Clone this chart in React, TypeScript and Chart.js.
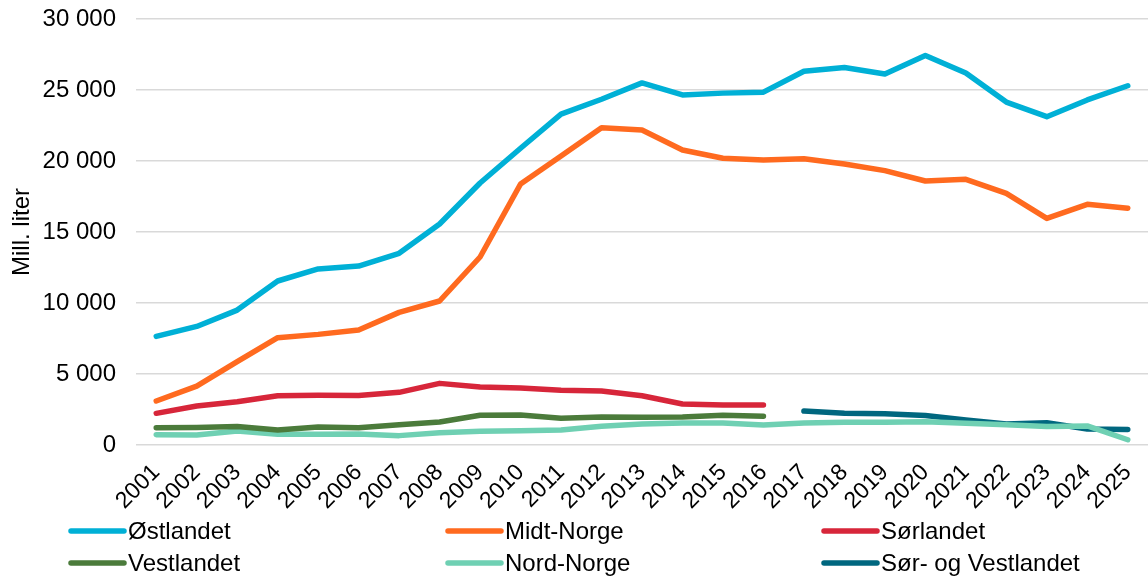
import React, { useEffect, useRef } from "react";
import { Chart, registerables } from "chart.js";

Chart.register(...registerables);

const years = [
  "2001", "2002", "2003", "2004", "2005", "2006", "2007", "2008", "2009", "2010",
  "2011", "2012", "2013", "2014", "2015", "2016", "2017", "2018", "2019", "2020",
  "2021", "2022", "2023", "2024", "2025",
];

const ostlandet = [
  7650, 8350, 9500, 11550, 12400, 12600, 13500, 15560, 18450, 20900,
  23300, 24350, 25500, 24650, 24780, 24850, 26320, 26580, 26130, 27430,
  26200, 24150, 23120, 24300, 25300,
];
const midtNorge = [
  3100, 4150, 5870, 7560, 7790, 8100, 9340, 10140, 13240, 18380,
  20350, 22350, 22180, 20770, 20190, 20070, 20160, 19790, 19320, 18590,
  18710, 17720, 15960, 16950, 16670,
];
const sorlandet = [
  2230, 2750, 3050, 3470, 3500, 3480, 3710, 4340, 4080, 4010,
  3850, 3800, 3470, 2890, 2820, 2820, null, null, null, null,
  null, null, null, null, null,
];
const vestlandet = [
  1220, 1240, 1310, 1060, 1270, 1220, 1430, 1620, 2090, 2110,
  1880, 1970, 1950, 1970, 2090, 2030, null, null, null, null,
  null, null, null, null, null,
];
const nordNorge = [
  730, 700, 990, 750, 750, 780, 660, 870, 960, 1010,
  1060, 1320, 1480, 1550, 1550, 1410, 1550, 1600, 1600, 1640,
  1530, 1430, 1310, 1340, 370,
];
const sorOgVestlandet = [
  null, null, null, null, null, null, null, null, null, null,
  null, null, null, null, null, null, 2390, 2230, 2200, 2070,
  1760, 1480, 1570, 1130, 1100,
];

const seriesNames = ["Østlandet", "Midt-Norge", "Sørlandet", "Vestlandet", "Nord-Norge", "Sør- og Vestlandet"];
const seriesColors = ["#00B0D6", "#FF6A1F", "#D7263A", "#4B7B3B", "#6FD0B3", "#00677F"];
const seriesData = [ostlandet, midtNorge, sorlandet, vestlandet, nordNorge, sorOgVestlandet];

const yTitle = "Mill. liter";
const FONT = "'Liberation Sans', Arial, sans-serif";

const legendPlugin = {
  id: "gridLegend",
  afterDraw(chart: any) {
    const ctx = chart.ctx;
    const cols = [69, 446, 822];
    const rows = [531, 563];
    ctx.save();
    ctx.font = `24px ${FONT}`;
    ctx.textBaseline = "middle";
    ctx.textAlign = "left";
    chart.data.datasets.forEach((ds: any, i: number) => {
      const x = cols[i % 3];
      const y = rows[Math.floor(i / 3)];
      ctx.strokeStyle = ds.borderColor;
      ctx.lineWidth = 5.5;
      ctx.lineCap = "round";
      ctx.beginPath();
      ctx.moveTo(x + 2, y);
      ctx.lineTo(x + 55, y);
      ctx.stroke();
      ctx.fillStyle = "#000";
      ctx.fillText(ds.label, x + 59, y + 1);
    });
    ctx.restore();
  },
};

export default function App() {
  const ref = useRef<HTMLCanvasElement>(null);

  useEffect(() => {
    document.body.style.margin = "0";
    const canvas = ref.current;
    if (!canvas) return;
    const chart = new Chart(canvas, {
      type: "line",
      data: {
        labels: years,
        datasets: seriesNames.map((name, i) => ({
          label: name,
          data: seriesData[i],
          borderColor: seriesColors[i],
          backgroundColor: seriesColors[i],
          borderWidth: 5.5,
          pointRadius: 0,
          pointHoverRadius: 0,
          tension: 0,
          spanGaps: false,
          borderCapStyle: "round",
          borderJoinStyle: "round",
        })),
      },
      options: {
        animation: false,
        responsive: false,
        maintainAspectRatio: false,
        layout: { autoPadding: false, padding: { top: 19, right: 0, bottom: 67, left: 0 } },
        plugins: {
          legend: { display: false },
          tooltip: { enabled: false },
        },
        scales: {
          x: {
            offset: true,
            grid: { display: false, drawTicks: false },
            border: { display: false },
            ticks: {
              minRotation: 45,
              maxRotation: 45,
              autoSkip: false,
              padding: 14,
              color: "#000",
              font: { family: FONT, size: 23 },
            },
            afterFit: (scale: any) => {
              scale.height = 67;
              scale.paddingLeft = 0;
              scale.paddingRight = 0;
            },
          },
          y: {
            min: 0,
            max: 30000,
            grid: { color: "#D9D9D9", lineWidth: 1.5, drawTicks: false },
            border: { display: false },
            ticks: {
              stepSize: 5000,
              padding: 20,
              color: "#000",
              font: { family: FONT, size: 24 },
              callback: (v: any) => String(v).replace(/\B(?=(\d{3})+(?!\d))/g, " "),
            },
            title: {
              display: true,
              text: yTitle,
              color: "#000",
              font: { family: FONT, size: 24 },
              padding: { top: 8, bottom: 0 },
            },
            afterFit: (scale: any) => {
              scale.width = 136;
              scale.paddingTop = 0;
              scale.paddingBottom = 0;
            },
          },
        },
      },
      plugins: [legendPlugin],
    });
    return () => chart.destroy();
  }, []);

  return <canvas ref={ref} width={1148} height={579} style={{ display: "block" }} />;
}
